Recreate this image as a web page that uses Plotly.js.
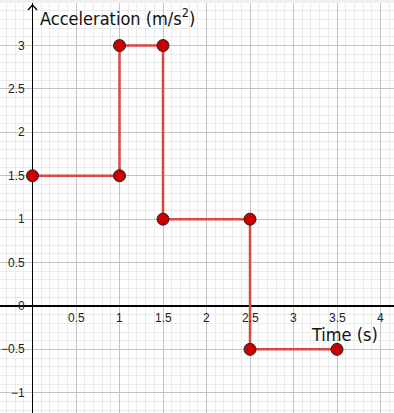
<!DOCTYPE html>
<html><head><meta charset="utf-8">
<script src="https://cdn.plot.ly/plotly-3.0.1.min.js"></script>
<style>html,body{margin:0;padding:0;background:#fff;}#chart{width:394px;height:413px;}</style>
</head><body><div id="chart"></div>
<script>
// Data
const timeS = [0, 1, 1, 1.5, 1.5, 2.5, 2.5, 3.5];
const accel = [1.5, 1.5, 3, 3, 1, 1, -0.5, -0.5];
const xTickVals = [0.5, 1, 1.5, 2, 2.5, 3, 3.5, 4];
const xTickText = ['0.5', '1', '1.5', '2', '2.5', '3', '3.5', '4'];
const yTickVals = [3, 2.5, 2, 1.5, 1, 0.5, 0, -0.5, -1];
const yTickText = ['3', '2.5', '2', '1.5', '1', '0.5', '0', '\u22120.5', '\u22121'];
const xTitle = 'Time (s)';
const yTitle = 'Acceleration (m/s<sup>2</sup>)';

const lblFont = {family: 'Liberation Sans, Arial, sans-serif', size: 12, color: '#222'};
const titleFont = {family: 'DejaVu Sans Condensed, Liberation Sans Narrow, sans-serif', size: 18, color: '#111'};

const annotations = [];
xTickVals.forEach((v, i) => annotations.push({
  x: v, y: 0, xref: 'x', yref: 'y', text: xTickText[i], showarrow: false,
  yanchor: 'top', xanchor: 'center', yshift: -3, font: lblFont
}));
yTickVals.forEach((v, i) => annotations.push({
  x: 0, y: v, xref: 'x', yref: 'y', text: yTickText[i], showarrow: false,
  xanchor: 'right', yanchor: 'middle', xshift: -6, font: lblFont
}));
annotations.push({x: 0, y: 3.525, xref: 'x', yref: 'y', text: yTitle, showarrow: false,
  xanchor: 'left', yanchor: 'top', xshift: 5, yshift: -3, font: titleFont});
annotations.push({x: 3.994, y: 0, xref: 'x', yref: 'y', text: xTitle, showarrow: false,
  xanchor: 'right', yanchor: 'top', yshift: -16, font: titleFont});

const trace = {
  x: timeS, y: accel, type: 'scatter', mode: 'lines+markers',
  line: {color: '#d94848', width: 2.5},
  marker: {size: 12, color: '#cc0000', line: {color: '#222', width: 1}},
  hoverinfo: 'skip', cliponaxis: false
};

const layout = {
  width: 394, height: 413,
  margin: {l: 0, r: 0, t: 0, b: 0},
  paper_bgcolor: '#fff', plot_bgcolor: '#fff',
  showlegend: false,
  xaxis: {range: [-0.3736, 4.155], dtick: 0.5, tick0: 0, showgrid: true, gridcolor: '#c4c4c4', gridwidth: 1,
    minor: {dtick: 0.1, tick0: 0, showgrid: true, gridcolor: '#ebebeb', gridwidth: 1},
    zeroline: true, zerolinecolor: '#000', zerolinewidth: 1.3, showticklabels: false, ticks: '', fixedrange: true},
  yaxis: {range: [-1.233, 3.525], dtick: 0.5, tick0: 0, showgrid: true, gridcolor: '#c4c4c4', gridwidth: 1,
    minor: {dtick: 0.1, tick0: 0, showgrid: true, gridcolor: '#ebebeb', gridwidth: 1},
    zeroline: true, zerolinecolor: '#000', zerolinewidth: 1.3, showticklabels: false, ticks: '', fixedrange: true},
  annotations: annotations,
  shapes: [
    {type: 'rect', xref: 'paper', yref: 'paper', x0: 0, x1: 1, y0: 1 - 3/413, y1: 1,
      fillcolor: '#efefef', line: {width: 0}},
    {type: 'path', xref: 'x', yref: 'y', xsizemode: 'pixel', ysizemode: 'pixel',
      xanchor: 0, yanchor: 3.468, path: 'M -4.5 -5 L 0 0 L 4.5 -5',
      line: {color: '#000', width: 1.3}}
  ]
};

Plotly.newPlot('chart', [trace], layout, {staticPlot: true, displayModeBar: false});
</script>
</body></html>
